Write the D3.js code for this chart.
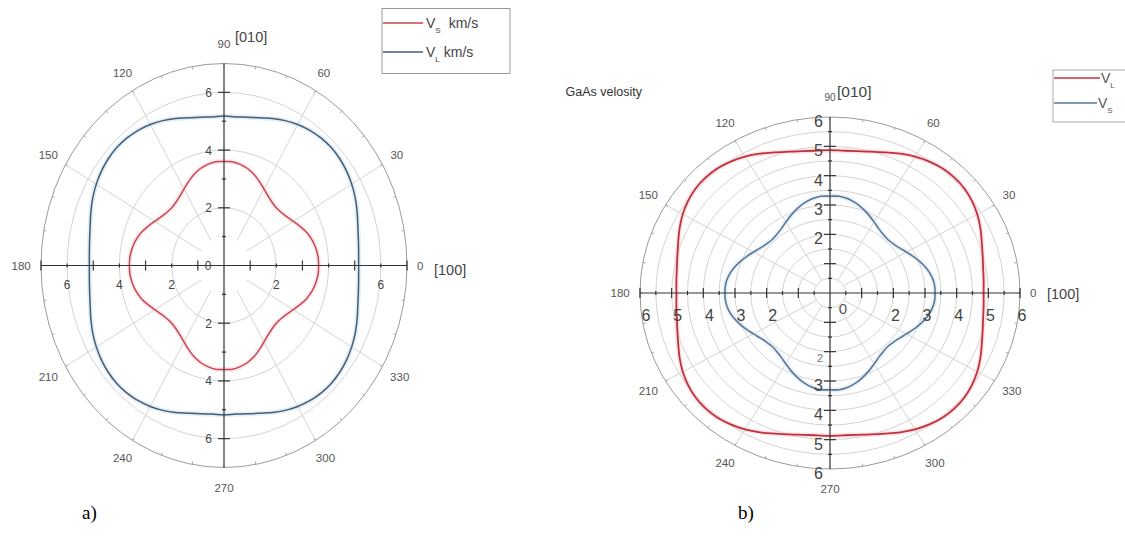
<!DOCTYPE html>
<html>
<head>
<meta charset="utf-8">
<script src="https://cdn.jsdelivr.net/npm/d3@7"></script>
<style>
  body { margin: 0; background: #fff; }
  text { font-family: "Liberation Sans", Arial, sans-serif; }
</style>
</head>
<body>
<script>
// angles (deg) at which the curves were read
const angles = [
  0, 5, 10, 15, 20, 25, 30, 35, 40, 45, 50, 55, 60, 65, 70, 75, 80, 85,
  90, 95, 100, 105, 110, 115, 120, 125, 130, 135, 140, 145, 150, 155, 160, 165, 170, 175,
  180, 185, 190, 195, 200, 205, 210, 215, 220, 225, 230, 235, 240, 245, 250, 255, 260, 265,
  270, 275, 280, 285, 290, 295, 300, 305, 310, 315, 320, 325, 330, 335, 340, 345, 350, 355
];

// a) velocities, km/s
const leftVS = [
  3.62, 3.61, 3.56, 3.48, 3.36, 3.21, 3.06, 2.94, 2.86, 2.83, 2.86, 2.94, 3.06, 3.21, 3.36, 3.48, 3.56, 3.61,
  3.60, 3.61, 3.56, 3.48, 3.36, 3.21, 3.06, 2.94, 2.86, 2.83, 2.86, 2.94, 3.06, 3.21, 3.36, 3.48, 3.56, 3.61,
  3.62, 3.61, 3.56, 3.48, 3.36, 3.21, 3.06, 2.94, 2.86, 2.83, 2.86, 2.94, 3.06, 3.21, 3.36, 3.48, 3.56, 3.61,
  3.60, 3.61, 3.56, 3.48, 3.36, 3.21, 3.06, 2.94, 2.86, 2.83, 2.86, 2.94, 3.06, 3.21, 3.36, 3.48, 3.56, 3.61
];
const leftVL = [
  5.15, 5.17, 5.22, 5.30, 5.42, 5.54, 5.64, 5.72, 5.77, 5.79, 5.77, 5.72, 5.64, 5.54, 5.42, 5.30, 5.22, 5.17,
  5.18, 5.17, 5.22, 5.30, 5.42, 5.54, 5.64, 5.72, 5.77, 5.79, 5.77, 5.72, 5.64, 5.54, 5.42, 5.30, 5.22, 5.17,
  5.15, 5.17, 5.22, 5.30, 5.42, 5.54, 5.64, 5.72, 5.77, 5.79, 5.77, 5.72, 5.64, 5.54, 5.42, 5.30, 5.22, 5.17,
  5.18, 5.17, 5.22, 5.30, 5.42, 5.54, 5.64, 5.72, 5.77, 5.79, 5.77, 5.72, 5.64, 5.54, 5.42, 5.30, 5.22, 5.17
];

// b) velocities, km/s
const rightVL = [
  4.85, 4.87, 4.91, 4.99, 5.10, 5.24, 5.37, 5.47, 5.54, 5.56, 5.54, 5.47, 5.37, 5.24, 5.10, 4.99, 4.91, 4.87,
  4.87, 4.87, 4.91, 4.99, 5.10, 5.24, 5.37, 5.47, 5.54, 5.56, 5.54, 5.47, 5.37, 5.24, 5.10, 4.99, 4.91, 4.87,
  4.85, 4.87, 4.91, 4.99, 5.10, 5.24, 5.37, 5.47, 5.54, 5.56, 5.54, 5.47, 5.37, 5.24, 5.10, 4.99, 4.91, 4.87,
  4.87, 4.87, 4.91, 4.99, 5.10, 5.24, 5.37, 5.47, 5.54, 5.56, 5.54, 5.47, 5.37, 5.24, 5.10, 4.99, 4.91, 4.87
];
const rightVS = [
  3.32, 3.31, 3.26, 3.17, 3.05, 2.92, 2.79, 2.68, 2.61, 2.58, 2.61, 2.68, 2.79, 2.92, 3.05, 3.17, 3.26, 3.31,
  3.30, 3.31, 3.26, 3.17, 3.05, 2.92, 2.79, 2.68, 2.61, 2.58, 2.61, 2.68, 2.79, 2.92, 3.05, 3.17, 3.26, 3.31,
  3.32, 3.31, 3.26, 3.17, 3.05, 2.92, 2.79, 2.68, 2.61, 2.58, 2.61, 2.68, 2.79, 2.92, 3.05, 3.17, 3.26, 3.31,
  3.30, 3.31, 3.26, 3.17, 3.05, 2.92, 2.79, 2.68, 2.61, 2.58, 2.61, 2.68, 2.79, 2.92, 3.05, 3.17, 3.26, 3.31
];

// ticks and labels
const angleLabels = [0, 30, 60, 90, 120, 150, 180, 210, 240, 270, 300, 330];
const spokeAngles = [30, 60, 120, 150, 210, 240, 300, 330];
const leftRings = [2, 4, 6];
const leftMajor = [2, 4, 6];
const leftMinor = [1, 3, 5, 7];
const leftXLabelsNeg = [6, 4, 2];
const leftXLabelsPos = [2, 6];
const leftYLabels = [6, 4, 2];
const rightRings = [0.5, 1, 1.5, 2, 2.5, 3, 3.5, 4, 4.5, 5, 5.5];
const rightMajor = [1, 2, 3, 4, 5, 6];
const rightMinor = [0.5, 1.5, 2.5, 3.5, 4.5, 5.5];
const rightXLabels = [2, 3, 4, 5, 6];
const rightYLabels = [2, 3, 4, 5, 6];

const svg = d3.select("body").append("svg").attr("width", 1125).attr("height", 537);
svg.append("rect").attr("width", 1125).attr("height", 537).attr("fill", "#fff");

const rad = a => a * Math.PI / 180;

function polar(cfg) {
    const g = svg.append("g");
    const sx = d3.scaleLinear().domain([0, cfg.rMax]).range([0, cfg.rx]);
    const sy = d3.scaleLinear().domain([0, cfg.rMax]).range([0, cfg.ry]);
    const px = (r, a) => cfg.cx + sx(r) * Math.cos(rad(a));
    const py = (r, a) => cfg.cy - sy(r) * Math.sin(rad(a));

    // grid rings
    g.selectAll(null).data(cfg.rings).join("ellipse")
        .attr("cx", cfg.cx).attr("cy", cfg.cy)
        .attr("rx", d => sx(d)).attr("ry", d => sy(d))
        .attr("fill", "none").attr("stroke", "#d4d4d4").attr("stroke-width", 1);

    // spokes
    g.selectAll(null).data(spokeAngles).join("line")
        .attr("x1", d => px(cfg.spokeStart, d)).attr("y1", d => py(cfg.spokeStart, d))
        .attr("x2", d => px(cfg.rMax, d)).attr("y2", d => py(cfg.rMax, d))
        .attr("stroke", "#d4d4d4").attr("stroke-width", 1);

    // outer ring + small angular ticks
    g.append("ellipse").attr("cx", cfg.cx).attr("cy", cfg.cy)
        .attr("rx", sx(cfg.rMax)).attr("ry", sy(cfg.rMax))
        .attr("fill", "none").attr("stroke", "#9a9a9a").attr("stroke-width", 1);
    g.selectAll(null).data(d3.range(0, 360, 10)).join("line")
        .attr("x1", d => px(cfg.rMax, d)).attr("y1", d => py(cfg.rMax, d))
        .attr("x2", d => px(cfg.rMax * 0.985, d)).attr("y2", d => py(cfg.rMax * 0.985, d))
        .attr("stroke", "#aaa");

    // curves
    const line = d3.line()
        .x((d, i) => px(d, angles[i]))
        .y((d, i) => py(d, angles[i]))
        .curve(d3.curveCatmullRomClosed);
    cfg.series.forEach(s => {
        g.append("path").attr("d", line(s.values)).attr("fill", "none")
            .attr("stroke", s.halo).attr("stroke-width", 5).attr("opacity", 0.45);
    });
    cfg.series.forEach(s => {
        g.append("path").attr("d", line(s.values)).attr("fill", "none")
            .attr("stroke", s.color).attr("stroke-width", s.width);
    });

    // axes
    const ax = g.append("g").attr("stroke", "#333").attr("stroke-width", 1.2);
    ax.append("line").attr("x1", cfg.cx - cfg.rx).attr("x2", cfg.cx + cfg.rx)
        .attr("y1", cfg.cy).attr("y2", cfg.cy);
    ax.append("line").attr("x1", cfg.cx).attr("x2", cfg.cx)
        .attr("y1", cfg.cy - cfg.ry).attr("y2", cfg.cy + cfg.ry);
    [-1, 1].forEach(sg => {
        cfg.xTall.forEach(v => ax.append("line")
            .attr("x1", cfg.cx + sg * sx(v)).attr("x2", cfg.cx + sg * sx(v))
            .attr("y1", cfg.cy - 5).attr("y2", cfg.cy + 5));
        cfg.xShort.forEach(v => ax.append("line")
            .attr("x1", cfg.cx + sg * sx(v)).attr("x2", cfg.cx + sg * sx(v))
            .attr("y1", cfg.cy - 2).attr("y2", cfg.cy + 2));
        cfg.yLong.forEach(v => ax.append("line")
            .attr("x1", cfg.cx - 6).attr("x2", cfg.cx + 6)
            .attr("y1", cfg.cy + sg * sy(v)).attr("y2", cfg.cy + sg * sy(v)));
        cfg.yShort.forEach(v => ax.append("line")
            .attr("x1", cfg.cx - 2).attr("x2", cfg.cx + 2)
            .attr("y1", cfg.cy + sg * sy(v)).attr("y2", cfg.cy + sg * sy(v)));
    });

    // angle labels
    g.selectAll(null).data(angleLabels).join("text")
        .attr("x", d => {
            const c = Math.cos(rad(d));
            const hw = String(d).length * 3.3;
            return cfg.cx + (cfg.rx + 10) * c + c * hw;
        })
        .attr("y", d => cfg.cy - (cfg.ry + cfg.labelOff) * Math.sin(rad(d)))
        .attr("text-anchor", "middle").attr("dominant-baseline", "central")
        .attr("font-size", d => d === 90 ? cfg.f90 : 11.5)
        .attr("fill", "#555")
        .text(d => d);

    return { g, sx, sy, px, py };
}

// ---------- a) ----------
const L = polar({
    cx: 224, cy: 265.5, rx: 183, ry: 202, rMax: 7, labelOff: 20, f90: 11.5,
    rings: leftRings, spokeStart: 1,
    xTall: leftMinor, xShort: leftMajor, yLong: leftMajor, yShort: leftMinor.slice(0, 3),
    series: [
        { values: leftVL, color: "#3e5d78", halo: "#c9dcea", width: 1.5 },
        { values: leftVS, color: "#c8464f", halo: "#f6cfd3", width: 1.5 }
    ]
});
leftXLabelsNeg.forEach(v => L.g.append("text").attr("x", 224 - L.sx(v)).attr("y", 289)
    .attr("text-anchor", "middle").attr("font-size", 12).attr("fill", "#444").text(v));
leftXLabelsPos.forEach(v => L.g.append("text").attr("x", 224 + L.sx(v)).attr("y", 289)
    .attr("text-anchor", "middle").attr("font-size", 12).attr("fill", "#444").text(v));
L.g.append("text").attr("x", 208).attr("y", 270).attr("text-anchor", "middle")
    .attr("font-size", 12).attr("fill", "#444").text("0");
[-1, 1].forEach(sg => leftYLabels.forEach(v => L.g.append("text")
    .attr("x", 212).attr("y", 265.5 + sg * L.sy(v) + 4.5)
    .attr("text-anchor", "end").attr("font-size", 12).attr("fill", "#444").text(v)));
L.g.append("text").attr("x", 235).attr("y", 42).attr("font-size", 14.5).attr("fill", "#444").text("[010]");
L.g.append("text").attr("x", 434).attr("y", 275).attr("font-size", 14.5).attr("fill", "#444").text("[100]");

// legend a)
const lg = svg.append("g");
lg.append("rect").attr("x", 382).attr("y", 8.5).attr("width", 128).attr("height", 65)
    .attr("fill", "#fff").attr("stroke", "#999");
lg.append("line").attr("x1", 383).attr("x2", 423).attr("y1", 23).attr("y2", 23)
    .attr("stroke", "#c8464f").attr("stroke-width", 1.5);
lg.append("line").attr("x1", 383).attr("x2", 423).attr("y1", 52).attr("y2", 52)
    .attr("stroke", "#3e5d78").attr("stroke-width", 1.5);
const t1 = lg.append("text").attr("x", 426).attr("y", 28).attr("font-size", 14).attr("fill", "#444");
t1.append("tspan").text("V");
t1.append("tspan").attr("font-size", 8).attr("dy", 5).text("S");
t1.append("tspan").attr("dy", -5).attr("dx", 8).text("km/s");
const t2 = lg.append("text").attr("x", 426).attr("y", 57).attr("font-size", 14).attr("fill", "#444");
t2.append("tspan").text("V");
t2.append("tspan").attr("font-size", 8).attr("dy", 5).text("L");
t2.append("tspan").attr("dy", -5).attr("dx", 4).text("km/s");

// ---------- b) ----------
const R = polar({
    cx: 830, cy: 293, rx: 190, ry: 176, rMax: 6, labelOff: 20, f90: 10,
    rings: rightRings, spokeStart: 0.5,
    xTall: rightMajor, xShort: rightMinor, yLong: rightMajor.slice(0, 5), yShort: rightMinor,
    series: [
        { values: rightVL, color: "#c2303e", halo: "#f7c8cd", width: 1.8 },
        { values: rightVS, color: "#56799a", halo: "#d3e1ec", width: 1.6 }
    ]
});
rightXLabels.forEach(v => {
    R.g.append("text").attr("x", 830 - R.sx(v) + 6).attr("y", 321)
        .attr("text-anchor", "middle").attr("font-size", 16).attr("fill", "#444").text(v);
    R.g.append("text").attr("x", 830 + R.sx(v) + 2).attr("y", 321)
        .attr("text-anchor", "middle").attr("font-size", 16).attr("fill", "#444").text(v);
});
R.g.append("text").attr("x", 843).attr("y", 314).attr("text-anchor", "middle")
    .attr("font-size", 15).attr("fill", "#555").text("0");
rightYLabels.forEach(v => {
    R.g.append("text").attr("x", 823).attr("y", 293 - R.sy(v) + 10)
        .attr("text-anchor", "end").attr("font-size", 16).attr("fill", "#444").text(v);
    R.g.append("text").attr("x", 823).attr("y", 293 + R.sy(v) + 10)
        .attr("text-anchor", "end").attr("font-size", v === 2 ? 11 : 16)
        .attr("fill", v === 2 ? "#777" : "#444").text(v);
});
R.g.append("text").attr("x", 837).attr("y", 97).attr("font-size", 15.5).attr("fill", "#444").text("[010]");
R.g.append("text").attr("x", 1047).attr("y", 299).attr("font-size", 14.5).attr("fill", "#444").text("[100]");
svg.append("text").attr("x", 642).attr("y", 96).attr("text-anchor", "end")
    .attr("font-size", 12.5).attr("fill", "#333").text("GaAs velosity");

// legend b)
const rg = svg.append("g");
rg.append("rect").attr("x", 1053).attr("y", 70).attr("width", 90).attr("height", 52)
    .attr("fill", "#fff").attr("stroke", "#aaa");
rg.append("line").attr("x1", 1054).attr("x2", 1100).attr("y1", 78).attr("y2", 78)
    .attr("stroke", "#c2303e").attr("stroke-width", 1.6);
rg.append("line").attr("x1", 1054).attr("x2", 1097).attr("y1", 103).attr("y2", 103)
    .attr("stroke", "#56799a").attr("stroke-width", 1.6);
const t3 = rg.append("text").attr("x", 1101).attr("y", 83).attr("font-size", 14).attr("fill", "#555");
t3.append("tspan").text("V");
t3.append("tspan").attr("font-size", 8).attr("dy", 5).text("L");
const t4 = rg.append("text").attr("x", 1098).attr("y", 108).attr("font-size", 14).attr("fill", "#555");
t4.append("tspan").text("V");
t4.append("tspan").attr("font-size", 8).attr("dy", 5).text("S");

// panel letters
svg.append("text").attr("x", 82).attr("y", 519).style("font-family", "'Liberation Serif', serif")
    .attr("font-size", 19).attr("fill", "#000").text("a)");
svg.append("text").attr("x", 738).attr("y", 519).style("font-family", "'Liberation Serif', serif")
    .attr("font-size", 19).attr("fill", "#000").text("b)");
</script>
</body>
</html>
